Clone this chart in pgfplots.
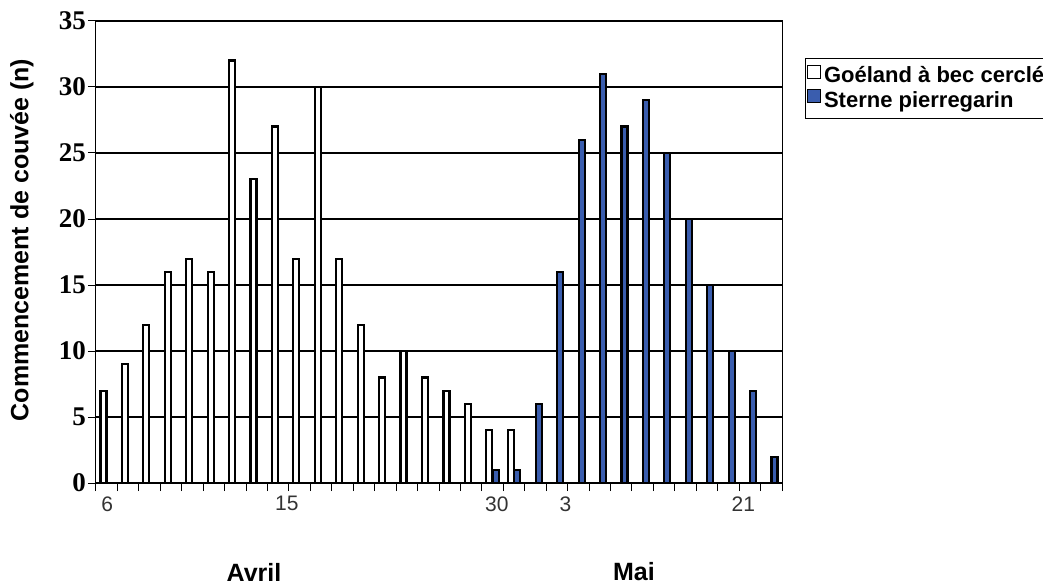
\documentclass[border=0pt]{standalone}
\usepackage{fontspec}
\setmainfont{Liberation Sans}
\newfontfamily\timesfont{Liberation Serif}
\usepackage{pgfplots}
\pgfplotsset{compat=1.18}
\definecolor{sterne}{RGB}{58,93,174}
\newcommand\xf{\fontsize{21}{21}\selectfont\color{black!80}}
\begin{document}
\begin{tikzpicture}[x=1pt,y=1pt]
\path[use as bounding box] (0,0) rectangle (1043,587);
\begin{axis}[
  at={(96pt,104pt)}, anchor=south west,
  scale only axis, width=686pt, height=462pt,
  xmin=0.5, xmax=32.5, ymin=0, ymax=35,
  ybar, bar width=6pt,
  /pgf/number format/assume math mode=true,
  xtick={0.5,1.5,...,32.5}, xticklabels={},
  xticklabel style={yshift=-10pt},
  extra x ticks={1.02,9.4,19.2,22.4,30.7},
  extra x tick labels={\xf 6,\xf 15,\xf 30,\xf 3,\xf 21},
  extra x tick style={major tick length=0pt},
  ytick={0,5,...,35},
  yticklabel style={font=\timesfont\bfseries\fontsize{27}{27}\selectfont, inner sep=2pt},
  tick align=outside, major tick length=8pt,
  tick style={black, line width=1pt},
  xtick pos=bottom, ytick pos=left,
  axis line style={black, line width=1pt},
  ymajorgrids, grid style={black, line width=1.2pt},
  ylabel={Commencement de couvée (n)},
  every axis y label/.style={at={(axis description cs:-0.108,0.526)}, rotate=90, anchor=center, font=\bfseries\fontsize{25}{25}\selectfont},
  legend style={at={(1.0335,0.92)}, anchor=north west, draw=black, line width=1.2pt,
    font=\bfseries\fontsize{22}{23}\selectfont, inner xsep=1pt, inner ysep=6pt, row sep=2pt,
    nodes={inner sep=0pt, text height=16pt, text depth=5pt}},
  legend cell align=left,
  legend image code/.code={\draw[#1, line width=0.8pt] (0pt,-1pt) rectangle (13pt,12pt);},
]
\addplot[fill=white, draw=black, line width=2.2pt, bar shift=-3.3pt] coordinates {
(1,7)(2,9)(3,12)(4,16)(5,17)(6,16)(7,32)(8,23)(9,27)(10,17)(11,30)(12,17)(13,12)(14,8)(15,10)(16,8)(17,7)(18,6)(19,4)(20,4)};
\addplot[fill=sterne, draw=black, line width=2.2pt, bar shift=3.3pt] coordinates {
(19,1)(20,1)(21,6)(22,16)(23,26)(24,31)(25,27)(26,29)(27,25)(28,20)(29,15)(30,10)(31,7)(32,2)};
\legend{\,Goéland à bec cerclé, \,Sterne pierregarin}
\draw[black, line width=1pt] ([xshift=-3pt]rel axis cs:0,0) -- ([xshift=-3pt]rel axis cs:0,1);
\end{axis}
\node[font=\bfseries\fontsize{25}{25}\selectfont] at (254,15) {Avril};
\node[font=\bfseries\fontsize{25}{25}\selectfont] at (634,15) {Mai};
\end{tikzpicture}
\end{document}
